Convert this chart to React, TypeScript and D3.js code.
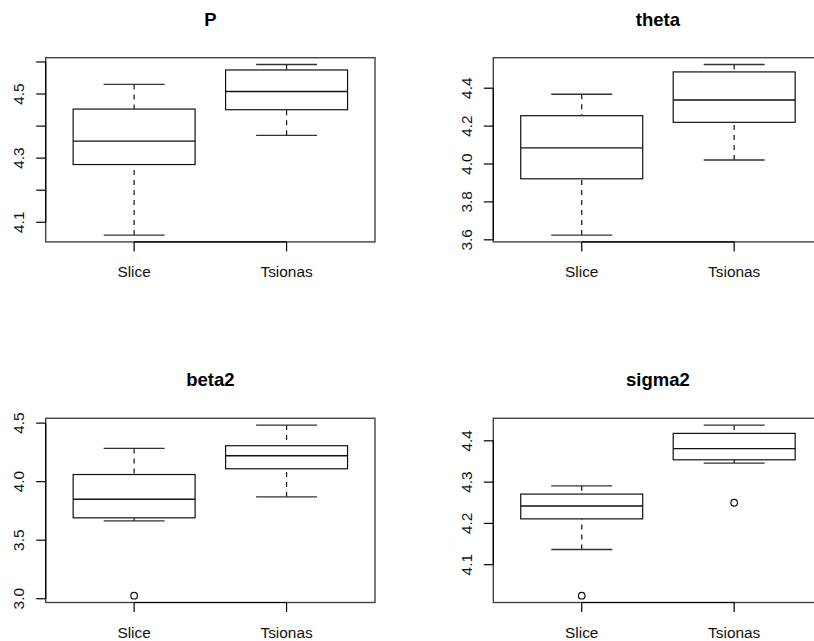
import React from "react";
import * as d3 from "d3";

const categories = ["Slice", "Tsionas"];
const titles = ["P", "theta", "beta2", "sigma2"];

// five-number summaries [lowWhisker, Q1, median, Q3, highWhisker]
const pSlice = [4.06, 4.28, 4.353, 4.453, 4.53];
const pTsionas = [4.371, 4.451, 4.508, 4.575, 4.592];
const thetaSlice = [3.625, 3.922, 4.085, 4.255, 4.368];
const thetaTsionas = [4.021, 4.22, 4.338, 4.486, 4.525];
const beta2Slice = [3.665, 3.691, 3.85, 4.061, 4.284];
const beta2Tsionas = [3.87, 4.11, 4.221, 4.307, 4.483];
const sigma2Slice = [4.137, 4.211, 4.242, 4.271, 4.291];
const sigma2Tsionas = [4.346, 4.354, 4.381, 4.418, 4.438];

const beta2SliceOut = [3.026];
const beta2TsionasOut: number[] = [];
const sigma2SliceOut = [4.025];
const sigma2TsionasOut = [4.25];

const pTicks = [4.1, 4.2, 4.3, 4.4, 4.5, 4.6];
const pLabels = ["4.1", "", "4.3", "", "4.5", ""];
const thetaTicks = [3.6, 3.8, 4.0, 4.2, 4.4];
const thetaLabels = ["3.6", "3.8", "4.0", "4.2", "4.4"];
const beta2Ticks = [3.0, 3.5, 4.0, 4.5];
const beta2Labels = ["3.0", "3.5", "4.0", "4.5"];
const sigma2Ticks = [4.1, 4.2, 4.3, 4.4];
const sigma2Labels = ["4.1", "4.2", "4.3", "4.4"];

const panels = [
  { title: titles[0], stats: [pSlice, pTsionas], outs: [[], []] as number[][], ticks: pTicks, labels: pLabels },
  { title: titles[1], stats: [thetaSlice, thetaTsionas], outs: [[], []] as number[][], ticks: thetaTicks, labels: thetaLabels },
  { title: titles[2], stats: [beta2Slice, beta2Tsionas], outs: [beta2SliceOut, beta2TsionasOut], ticks: beta2Ticks, labels: beta2Labels },
  { title: titles[3], stats: [sigma2Slice, sigma2Tsionas], outs: [sigma2SliceOut, sigma2TsionasOut], ticks: sigma2Ticks, labels: sigma2Labels },
];

const colX = [0, 447.6];
const rowY = [0, 360.6];
const PL = 45.7;
const PW = 329.3;
const PT = 57.7;
const PH = 184.2;

const FONT = "'Liberation Sans', Arial, Helvetica, sans-serif";

function Panel({ p, idx }: { p: (typeof panels)[number]; idx: number }) {
  const ox = colX[idx % 2];
  const oy = rowY[Math.floor(idx / 2)];
  const left = ox + PL;
  const right = left + PW;
  const top = oy + PT;
  const bottom = top + PH;

  const all = p.stats.flat().concat(p.outs.flat());
  const lo = d3.min(all)!;
  const hi = d3.max(all)!;
  const pad = (hi - lo) * 0.04;
  const y = d3.scaleLinear().domain([lo - pad, hi + pad]).range([bottom, top]);
  const x = d3.scaleLinear().domain([0.42, 2.58]).range([left, right]);
  const boxHalf = x(1.4) - x(1);
  const capHalf = boxHalf / 2;
  const tickLen = 9.5;
  const stroke = "#111";

  return (
    <g>
      <text
        x={(left + right) / 2}
        y={top - 32}
        textAnchor="middle"
        fontFamily={FONT}
        fontWeight="bold"
        fontSize={18.5}
        fill="#000"
      >
        {p.title}
      </text>
      {p.stats.map((s, i) => {
        const cx = x(i + 1);
        return (
          <g key={i} stroke={stroke} fill="none" strokeWidth={1.2}>
            <line x1={cx} x2={cx} y1={y(s[0])} y2={y(s[1])} strokeDasharray="5,5" />
            <line x1={cx} x2={cx} y1={y(s[4])} y2={y(s[3])} strokeDasharray="5,5" />
            <line x1={cx - capHalf} x2={cx + capHalf} y1={y(s[0])} y2={y(s[0])} stroke="#333" strokeWidth={1.4} />
            <line x1={cx - capHalf} x2={cx + capHalf} y1={y(s[4])} y2={y(s[4])} stroke="#333" strokeWidth={1.4} />
            <rect x={cx - boxHalf} y={y(s[3])} width={2 * boxHalf} height={y(s[1]) - y(s[3])} fill="#fff" />
            <line x1={cx - boxHalf} x2={cx + boxHalf} y1={y(s[2])} y2={y(s[2])} strokeWidth={1.4} />
            {p.outs[i].map((o, j) => (
              <circle key={j} cx={cx} cy={y(o)} r={3.3} />
            ))}
          </g>
        );
      })}
      {/* plot border */}
      <rect x={left} y={top} width={PW} height={PH} fill="none" stroke="#444" strokeWidth={1.4} />
      {/* y axis */}
      <g stroke="#000" strokeWidth={1.2}>
        <line x1={left} x2={left} y1={y(p.ticks[0])} y2={y(p.ticks[p.ticks.length - 1])} />
        {p.ticks.map((t, i) => (
          <line key={i} x1={left - tickLen} x2={left} y1={y(t)} y2={y(t)} />
        ))}
        <line x1={x(1)} x2={x(2)} y1={bottom} y2={bottom} />
        {categories.map((c, i) => (
          <line key={c} x1={x(i + 1)} x2={x(i + 1)} y1={bottom} y2={bottom + tickLen} />
        ))}
      </g>
      {p.ticks.map((t, i) =>
        p.labels[i] ? (
          <text
            key={i}
            transform={`translate(${left - 21.5},${y(t)}) rotate(-90)`}
            textAnchor="middle"
            fontFamily={FONT}
            fontSize={15.4}
            fill="#111"
          >
            {p.labels[i]}
          </text>
        ) : null
      )}
      {categories.map((c, i) => (
        <text
          key={c}
          x={x(i + 1)}
          y={bottom + 35}
          textAnchor="middle"
          fontFamily={FONT}
          fontSize={15.4}
          fill="#111"
        >
          {c}
        </text>
      ))}
    </g>
  );
}

export default function App() {
  return (
    <svg
      width={814}
      height={641}
      style={{ position: "absolute", left: 0, top: 0, background: "#fff" }}
    >
      <rect width={814} height={641} fill="#fff" />
      {panels.map((p, i) => (
        <Panel key={p.title} p={p} idx={i} />
      ))}
    </svg>
  );
}
